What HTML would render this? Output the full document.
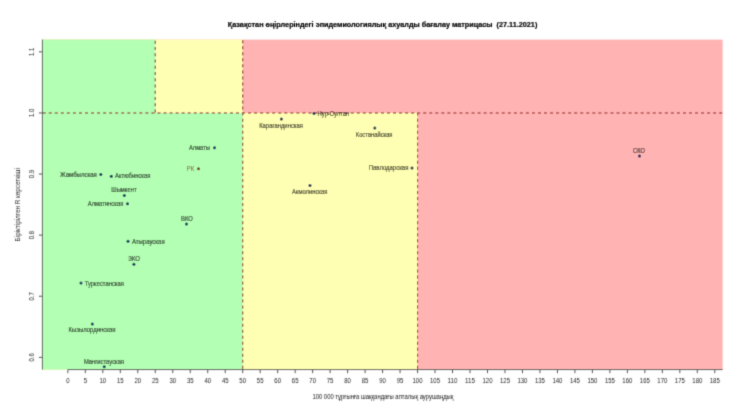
<!DOCTYPE html><html><head><meta charset="utf-8"><style>html,body{margin:0;padding:0;background:#fff;width:740px;height:416px;overflow:hidden}svg{display:block}text{font-family:"Liberation Sans", sans-serif}</style></head><body>
<svg width="740" height="416" viewBox="0 0 740 416">
<defs><filter id="b" x="0" y="0" width="740" height="416" filterUnits="userSpaceOnUse"><feConvolveMatrix order="3" kernelMatrix="9 42 9 42 196 42 9 42 9" divisor="400" edgeMode="none"/></filter></defs><rect width="740" height="416" fill="#fff"/><g filter="url(#b)">
<rect x="42.45" y="39.62" width="680.20" height="329.94" fill="#ffb3b3"/>
<rect x="42.45" y="39.62" width="200.25" height="73.32" fill="#ffffb3"/>
<rect x="42.45" y="112.94" width="375.10" height="256.62" fill="#ffffb3"/>
<rect x="42.45" y="39.62" width="112.82" height="73.32" fill="#b3ffb3"/>
<rect x="42.45" y="112.94" width="200.25" height="256.62" fill="#b3ffb3"/>
<line x1="42.45" y1="112.94" x2="722.65" y2="112.94" stroke="#8c1a1a" stroke-width="1.1" stroke-dasharray="3 3.04" stroke-dashoffset="-0.26"/>
<line x1="242.70" y1="369.56" x2="242.70" y2="39.62" stroke="#8c1a1a" stroke-width="1.1" stroke-dasharray="3 3.03" stroke-dashoffset="-0.7"/>
<line x1="155.27" y1="112.94" x2="155.27" y2="39.62" stroke="#8c1a1a" stroke-width="1.1" stroke-dasharray="3.1 3.16" stroke-dashoffset="-0.34"/>
<line x1="417.55" y1="369.56" x2="417.55" y2="112.94" stroke="#8c1a1a" stroke-width="1.1" stroke-dasharray="3 3.03" stroke-dashoffset="-0.7"/>
<line x1="42.45" y1="39.62" x2="42.45" y2="369.56" stroke="#555" stroke-width="1"/>
<line x1="67.85" y1="369.56" x2="722.65" y2="369.56" stroke="#555" stroke-width="1"/>
<line x1="67.85" y1="369.56" x2="67.85" y2="373.16" stroke="#555" stroke-width="1"/>
<text x="67.85" y="383.3" font-size="6.9" text-anchor="middle" fill="#262626" textLength="3.34" lengthAdjust="spacingAndGlyphs">0</text>
<line x1="85.33" y1="369.56" x2="85.33" y2="373.16" stroke="#555" stroke-width="1"/>
<text x="85.33" y="383.3" font-size="6.9" text-anchor="middle" fill="#262626" textLength="3.34" lengthAdjust="spacingAndGlyphs">5</text>
<line x1="102.82" y1="369.56" x2="102.82" y2="373.16" stroke="#555" stroke-width="1"/>
<text x="102.82" y="383.3" font-size="6.9" text-anchor="middle" fill="#262626" textLength="6.67" lengthAdjust="spacingAndGlyphs">10</text>
<line x1="120.30" y1="369.56" x2="120.30" y2="373.16" stroke="#555" stroke-width="1"/>
<text x="120.30" y="383.3" font-size="6.9" text-anchor="middle" fill="#262626" textLength="6.67" lengthAdjust="spacingAndGlyphs">15</text>
<line x1="137.79" y1="369.56" x2="137.79" y2="373.16" stroke="#555" stroke-width="1"/>
<text x="137.79" y="383.3" font-size="6.9" text-anchor="middle" fill="#262626" textLength="6.67" lengthAdjust="spacingAndGlyphs">20</text>
<line x1="155.27" y1="369.56" x2="155.27" y2="373.16" stroke="#555" stroke-width="1"/>
<text x="155.27" y="383.3" font-size="6.9" text-anchor="middle" fill="#262626" textLength="6.67" lengthAdjust="spacingAndGlyphs">25</text>
<line x1="172.76" y1="369.56" x2="172.76" y2="373.16" stroke="#555" stroke-width="1"/>
<text x="172.76" y="383.3" font-size="6.9" text-anchor="middle" fill="#262626" textLength="6.67" lengthAdjust="spacingAndGlyphs">30</text>
<line x1="190.25" y1="369.56" x2="190.25" y2="373.16" stroke="#555" stroke-width="1"/>
<text x="190.25" y="383.3" font-size="6.9" text-anchor="middle" fill="#262626" textLength="6.67" lengthAdjust="spacingAndGlyphs">35</text>
<line x1="207.73" y1="369.56" x2="207.73" y2="373.16" stroke="#555" stroke-width="1"/>
<text x="207.73" y="383.3" font-size="6.9" text-anchor="middle" fill="#262626" textLength="6.67" lengthAdjust="spacingAndGlyphs">40</text>
<line x1="225.22" y1="369.56" x2="225.22" y2="373.16" stroke="#555" stroke-width="1"/>
<text x="225.22" y="383.3" font-size="6.9" text-anchor="middle" fill="#262626" textLength="6.67" lengthAdjust="spacingAndGlyphs">45</text>
<line x1="242.70" y1="369.56" x2="242.70" y2="373.16" stroke="#555" stroke-width="1"/>
<text x="242.70" y="383.3" font-size="6.9" text-anchor="middle" fill="#262626" textLength="6.67" lengthAdjust="spacingAndGlyphs">50</text>
<line x1="260.18" y1="369.56" x2="260.18" y2="373.16" stroke="#555" stroke-width="1"/>
<text x="260.18" y="383.3" font-size="6.9" text-anchor="middle" fill="#262626" textLength="6.67" lengthAdjust="spacingAndGlyphs">55</text>
<line x1="277.67" y1="369.56" x2="277.67" y2="373.16" stroke="#555" stroke-width="1"/>
<text x="277.67" y="383.3" font-size="6.9" text-anchor="middle" fill="#262626" textLength="6.67" lengthAdjust="spacingAndGlyphs">60</text>
<line x1="295.15" y1="369.56" x2="295.15" y2="373.16" stroke="#555" stroke-width="1"/>
<text x="295.15" y="383.3" font-size="6.9" text-anchor="middle" fill="#262626" textLength="6.67" lengthAdjust="spacingAndGlyphs">65</text>
<line x1="312.64" y1="369.56" x2="312.64" y2="373.16" stroke="#555" stroke-width="1"/>
<text x="312.64" y="383.3" font-size="6.9" text-anchor="middle" fill="#262626" textLength="6.67" lengthAdjust="spacingAndGlyphs">70</text>
<line x1="330.12" y1="369.56" x2="330.12" y2="373.16" stroke="#555" stroke-width="1"/>
<text x="330.12" y="383.3" font-size="6.9" text-anchor="middle" fill="#262626" textLength="6.67" lengthAdjust="spacingAndGlyphs">75</text>
<line x1="347.61" y1="369.56" x2="347.61" y2="373.16" stroke="#555" stroke-width="1"/>
<text x="347.61" y="383.3" font-size="6.9" text-anchor="middle" fill="#262626" textLength="6.67" lengthAdjust="spacingAndGlyphs">80</text>
<line x1="365.10" y1="369.56" x2="365.10" y2="373.16" stroke="#555" stroke-width="1"/>
<text x="365.10" y="383.3" font-size="6.9" text-anchor="middle" fill="#262626" textLength="6.67" lengthAdjust="spacingAndGlyphs">85</text>
<line x1="382.58" y1="369.56" x2="382.58" y2="373.16" stroke="#555" stroke-width="1"/>
<text x="382.58" y="383.3" font-size="6.9" text-anchor="middle" fill="#262626" textLength="6.67" lengthAdjust="spacingAndGlyphs">90</text>
<line x1="400.06" y1="369.56" x2="400.06" y2="373.16" stroke="#555" stroke-width="1"/>
<text x="400.06" y="383.3" font-size="6.9" text-anchor="middle" fill="#262626" textLength="6.67" lengthAdjust="spacingAndGlyphs">95</text>
<line x1="417.55" y1="369.56" x2="417.55" y2="373.16" stroke="#555" stroke-width="1"/>
<text x="417.55" y="383.3" font-size="6.9" text-anchor="middle" fill="#262626" textLength="10.01" lengthAdjust="spacingAndGlyphs">100</text>
<line x1="435.03" y1="369.56" x2="435.03" y2="373.16" stroke="#555" stroke-width="1"/>
<text x="435.03" y="383.3" font-size="6.9" text-anchor="middle" fill="#262626" textLength="10.01" lengthAdjust="spacingAndGlyphs">105</text>
<line x1="452.52" y1="369.56" x2="452.52" y2="373.16" stroke="#555" stroke-width="1"/>
<text x="452.52" y="383.3" font-size="6.9" text-anchor="middle" fill="#262626" textLength="10.01" lengthAdjust="spacingAndGlyphs">110</text>
<line x1="470.00" y1="369.56" x2="470.00" y2="373.16" stroke="#555" stroke-width="1"/>
<text x="470.00" y="383.3" font-size="6.9" text-anchor="middle" fill="#262626" textLength="10.01" lengthAdjust="spacingAndGlyphs">115</text>
<line x1="487.49" y1="369.56" x2="487.49" y2="373.16" stroke="#555" stroke-width="1"/>
<text x="487.49" y="383.3" font-size="6.9" text-anchor="middle" fill="#262626" textLength="10.01" lengthAdjust="spacingAndGlyphs">120</text>
<line x1="504.98" y1="369.56" x2="504.98" y2="373.16" stroke="#555" stroke-width="1"/>
<text x="504.98" y="383.3" font-size="6.9" text-anchor="middle" fill="#262626" textLength="10.01" lengthAdjust="spacingAndGlyphs">125</text>
<line x1="522.46" y1="369.56" x2="522.46" y2="373.16" stroke="#555" stroke-width="1"/>
<text x="522.46" y="383.3" font-size="6.9" text-anchor="middle" fill="#262626" textLength="10.01" lengthAdjust="spacingAndGlyphs">130</text>
<line x1="539.94" y1="369.56" x2="539.94" y2="373.16" stroke="#555" stroke-width="1"/>
<text x="539.94" y="383.3" font-size="6.9" text-anchor="middle" fill="#262626" textLength="10.01" lengthAdjust="spacingAndGlyphs">135</text>
<line x1="557.43" y1="369.56" x2="557.43" y2="373.16" stroke="#555" stroke-width="1"/>
<text x="557.43" y="383.3" font-size="6.9" text-anchor="middle" fill="#262626" textLength="10.01" lengthAdjust="spacingAndGlyphs">140</text>
<line x1="574.91" y1="369.56" x2="574.91" y2="373.16" stroke="#555" stroke-width="1"/>
<text x="574.91" y="383.3" font-size="6.9" text-anchor="middle" fill="#262626" textLength="10.01" lengthAdjust="spacingAndGlyphs">145</text>
<line x1="592.40" y1="369.56" x2="592.40" y2="373.16" stroke="#555" stroke-width="1"/>
<text x="592.40" y="383.3" font-size="6.9" text-anchor="middle" fill="#262626" textLength="10.01" lengthAdjust="spacingAndGlyphs">150</text>
<line x1="609.88" y1="369.56" x2="609.88" y2="373.16" stroke="#555" stroke-width="1"/>
<text x="609.88" y="383.3" font-size="6.9" text-anchor="middle" fill="#262626" textLength="10.01" lengthAdjust="spacingAndGlyphs">155</text>
<line x1="627.37" y1="369.56" x2="627.37" y2="373.16" stroke="#555" stroke-width="1"/>
<text x="627.37" y="383.3" font-size="6.9" text-anchor="middle" fill="#262626" textLength="10.01" lengthAdjust="spacingAndGlyphs">160</text>
<line x1="644.86" y1="369.56" x2="644.86" y2="373.16" stroke="#555" stroke-width="1"/>
<text x="644.86" y="383.3" font-size="6.9" text-anchor="middle" fill="#262626" textLength="10.01" lengthAdjust="spacingAndGlyphs">165</text>
<line x1="662.34" y1="369.56" x2="662.34" y2="373.16" stroke="#555" stroke-width="1"/>
<text x="662.34" y="383.3" font-size="6.9" text-anchor="middle" fill="#262626" textLength="10.01" lengthAdjust="spacingAndGlyphs">170</text>
<line x1="679.83" y1="369.56" x2="679.83" y2="373.16" stroke="#555" stroke-width="1"/>
<text x="679.83" y="383.3" font-size="6.9" text-anchor="middle" fill="#262626" textLength="10.01" lengthAdjust="spacingAndGlyphs">175</text>
<line x1="697.31" y1="369.56" x2="697.31" y2="373.16" stroke="#555" stroke-width="1"/>
<text x="697.31" y="383.3" font-size="6.9" text-anchor="middle" fill="#262626" textLength="10.01" lengthAdjust="spacingAndGlyphs">180</text>
<line x1="714.79" y1="369.56" x2="714.79" y2="373.16" stroke="#555" stroke-width="1"/>
<text x="714.79" y="383.3" font-size="6.9" text-anchor="middle" fill="#262626" textLength="10.01" lengthAdjust="spacingAndGlyphs">185</text>
<line x1="38.85" y1="357.34" x2="42.45" y2="357.34" stroke="#555" stroke-width="1"/>
<text transform="translate(34.3 357.34) rotate(-90)" font-size="6.9" text-anchor="middle" fill="#262626" textLength="8.34" lengthAdjust="spacingAndGlyphs">0.6</text>
<line x1="38.85" y1="296.24" x2="42.45" y2="296.24" stroke="#555" stroke-width="1"/>
<text transform="translate(34.3 296.24) rotate(-90)" font-size="6.9" text-anchor="middle" fill="#262626" textLength="8.34" lengthAdjust="spacingAndGlyphs">0.7</text>
<line x1="38.85" y1="235.14" x2="42.45" y2="235.14" stroke="#555" stroke-width="1"/>
<text transform="translate(34.3 235.14) rotate(-90)" font-size="6.9" text-anchor="middle" fill="#262626" textLength="8.34" lengthAdjust="spacingAndGlyphs">0.8</text>
<line x1="38.85" y1="174.04" x2="42.45" y2="174.04" stroke="#555" stroke-width="1"/>
<text transform="translate(34.3 174.04) rotate(-90)" font-size="6.9" text-anchor="middle" fill="#262626" textLength="8.34" lengthAdjust="spacingAndGlyphs">0.9</text>
<line x1="38.85" y1="112.94" x2="42.45" y2="112.94" stroke="#555" stroke-width="1"/>
<text transform="translate(34.3 112.94) rotate(-90)" font-size="6.9" text-anchor="middle" fill="#262626" textLength="8.34" lengthAdjust="spacingAndGlyphs">1.0</text>
<line x1="38.85" y1="51.84" x2="42.45" y2="51.84" stroke="#555" stroke-width="1"/>
<text transform="translate(34.3 51.84) rotate(-90)" font-size="6.9" text-anchor="middle" fill="#262626" textLength="8.34" lengthAdjust="spacingAndGlyphs">1.1</text>
<g opacity="0.72" fill="#000" stroke="#000" stroke-width="0.22">
<text x="60.10" y="176.81" font-size="6.6" textLength="36.80" lengthAdjust="spacingAndGlyphs">Жамбылская</text>
<text x="115.00" y="178.41" font-size="6.6" textLength="35.48" lengthAdjust="spacingAndGlyphs">Актюбинская</text>
<text x="111.30" y="192.31" font-size="6.6" textLength="25.30" lengthAdjust="spacingAndGlyphs">Шымкент</text>
<text x="87.80" y="206.11" font-size="6.6" textLength="35.50" lengthAdjust="spacingAndGlyphs">Алматинская</text>
<text x="189.00" y="150.01" font-size="6.6" textLength="20.90" lengthAdjust="spacingAndGlyphs">Алматы</text>
<text x="181.00" y="220.91" font-size="6.6" textLength="11.80" lengthAdjust="spacingAndGlyphs">ВКО</text>
<text x="131.90" y="243.61" font-size="6.6" textLength="32.80" lengthAdjust="spacingAndGlyphs">Атырауская</text>
<text x="128.20" y="261.21" font-size="6.6" textLength="11.80" lengthAdjust="spacingAndGlyphs">ЗКО</text>
<text x="84.70" y="285.51" font-size="6.6" textLength="39.30" lengthAdjust="spacingAndGlyphs">Туркестанская</text>
<text x="68.40" y="332.21" font-size="6.6" textLength="47.20" lengthAdjust="spacingAndGlyphs">Кызылординская</text>
<text x="83.90" y="363.61" font-size="6.6" textLength="40.20" lengthAdjust="spacingAndGlyphs">Мангистауская</text>
<text x="259.20" y="127.91" font-size="6.6" textLength="43.80" lengthAdjust="spacingAndGlyphs">Карагандинская</text>
<text x="317.60" y="116.31" font-size="6.6" textLength="31.60" lengthAdjust="spacingAndGlyphs">Нур-Султан</text>
<text x="355.80" y="136.61" font-size="6.6" textLength="36.70" lengthAdjust="spacingAndGlyphs">Костанайская</text>
<text x="368.80" y="170.31" font-size="6.6" textLength="39.60" lengthAdjust="spacingAndGlyphs">Павлодарская</text>
<text x="292.00" y="194.11" font-size="6.6" textLength="35.40" lengthAdjust="spacingAndGlyphs">Акмолинская</text>
<text x="633.10" y="152.71" font-size="6.6" textLength="11.70" lengthAdjust="spacingAndGlyphs">СКО</text>
</g>
<circle cx="100.8" cy="174.4" r="1.5" fill="#08285a"/>
<circle cx="111.3" cy="176.2" r="1.5" fill="#08285a"/>
<circle cx="124.3" cy="195.6" r="1.5" fill="#08285a"/>
<circle cx="127.5" cy="203.7" r="1.5" fill="#08285a"/>
<circle cx="214.5" cy="147.7" r="1.5" fill="#08285a"/>
<circle cx="186.5" cy="224.0" r="1.5" fill="#08285a"/>
<circle cx="128.0" cy="241.2" r="1.5" fill="#08285a"/>
<circle cx="133.9" cy="264.2" r="1.5" fill="#08285a"/>
<circle cx="81.0" cy="283.1" r="1.5" fill="#08285a"/>
<circle cx="92.3" cy="323.9" r="1.5" fill="#08285a"/>
<circle cx="104.2" cy="366.7" r="1.5" fill="#08285a"/>
<circle cx="281.4" cy="119.1" r="1.5" fill="#08285a"/>
<circle cx="314.0" cy="113.6" r="1.5" fill="#08285a"/>
<circle cx="374.8" cy="128.0" r="1.5" fill="#08285a"/>
<circle cx="412.0" cy="167.9" r="1.5" fill="#08285a"/>
<circle cx="310.0" cy="185.4" r="1.5" fill="#08285a"/>
<circle cx="639.5" cy="156.0" r="1.5" fill="#08285a"/>
<text x="186.7" y="170.91" font-size="6.6" textLength="7.4" lengthAdjust="spacingAndGlyphs" fill="#7a5a26">РК</text>
<circle cx="198.5" cy="168.7" r="1.5" fill="#6b3c0c"/>
<text x="227.8" y="26.6" font-size="7.25" font-weight="bold" textLength="309.5" lengthAdjust="spacingAndGlyphs" fill="#000" stroke="#000" stroke-width="0.2" style="white-space:pre">Қазақстан өңірлеріндегі эпидемиологиялық ахуалды бағалау матрицасы  (27.11.2021)</text>
<text x="312.4" y="398.5" font-size="6.6" textLength="141.0" lengthAdjust="spacingAndGlyphs" fill="#151515">100 000 тұрғынға шаққандағы апталық аурушаңдық</text>
<text transform="translate(20.2 241.4) rotate(-90)" font-size="6.6" textLength="73.2" lengthAdjust="spacingAndGlyphs" fill="#151515">Біріктірілген R көрсеткіші</text>
</g></svg></body></html>
